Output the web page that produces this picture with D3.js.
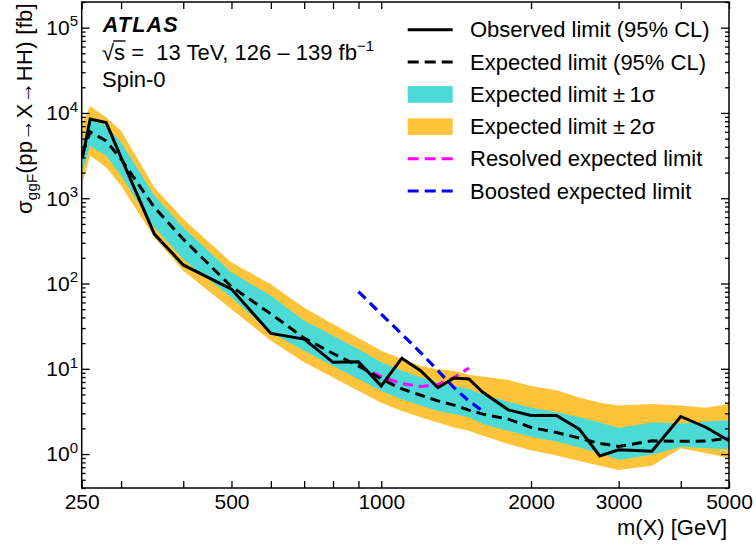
<!DOCTYPE html>
<html>
<head>
<meta charset="utf-8">
<script src="https://cdn.jsdelivr.net/npm/d3@7/dist/d3.min.js"></script>
<style>
  body { margin: 0; background: #fff; }
  svg { font-family: "Liberation Sans", Arial, Helvetica, sans-serif; }
  text { white-space: pre; }
</style>
</head>
<body>
<svg id="chart" width="756" height="550"></svg>
<script>
// ---- data ----
const masses   = [251,260,280,300,350,400,500,600,700,800,900,1000,1100,1200,1300,1400,1500,1600,1800,2000,2250,2500,2750,3000,3500,4000,4500,5000];
const observed = [3000,8500,7700,3000,380,165,86,26,22.3,11.9,12.1,6.3,13.3,9.5,6.0,7.8,7.6,5.3,3.3,2.84,2.84,1.96,0.95,1.12,1.08,2.76,2.05,1.43];
const expected = [3300,6000,4700,2870,780,331,92,44,22.9,15.1,10.8,7.6,5.8,4.9,4.2,3.75,3.28,2.94,2.57,2.05,1.79,1.54,1.33,1.23,1.43,1.41,1.42,1.54];
const plus2    = [7700,12100,8830,6170,1340,569,176,98,52,33.4,22.9,16.3,13,10.8,9.9,9.5,8.5,8.1,7.4,6.3,5.6,4.6,4.0,3.7,3.86,3.7,3.5,3.9];
const plus1    = [4340,8460,7060,4500,1070,454,135,72,36.5,24.4,17,11.9,9.5,7.9,6.9,6.3,5.8,5.0,4.1,3.5,3.1,2.7,2.35,2.02,2.35,2.29,2.41,2.5];
const minus1   = [2100,4110,3140,1830,454,193,68.5,26.6,16.3,10.8,7.6,5.5,4.4,3.7,3.2,2.94,2.7,2.25,1.88,1.6,1.4,1.19,1.02,0.86,0.98,1.22,1.17,1.14];
const minus2   = [1530,3140,2290,1400,347,141,50,21.3,11.9,7.9,5.5,4.0,3.2,2.7,2.35,2.05,1.88,1.64,1.31,1.11,0.96,0.83,0.73,0.65,0.73,1.17,1.02,0.9];

const resolvedMasses = [900,1000,1100,1200,1300,1400,1500];
const resolvedExp    = [10.8,8.1,6.7,6.2,6.5,7.9,10.2];
const boostedMasses  = [900,1000,1100,1200,1300,1400,1500,1600];
const boostedExp     = [80.5,43.8,25.5,15.5,9.5,6.0,4.2,3.2];

const xTicks      = [250,300,400,500,600,700,800,900,1000,2000,3000,4000,5000];
const xTickLabels = {250:"250",500:"500",1000:"1000",2000:"2000",3000:"3000",5000:"5000"};
const yMajor      = [1,10,100,1000,10000,100000];
const yMajorExp   = ["0","1","2","3","4","5"];

const legendLabels = ["Observed limit (95% CL)","Expected limit (95% CL)","Expected limit \u00b1\u20091\u03c3","Expected limit \u00b1\u20092\u03c3","Resolved expected limit","Boosted expected limit"];

// ---- styling ----
const C_CYAN = "#4cdad7", C_YEL = "#fdc33b";
const svg = d3.select("#chart");
const L = 81.7, R = 729, T = 2, B = 488;
const x = d3.scaleLog().domain([250, 5000]).range([L, R]);
const y = d3.scaleLog().domain([0.4, 2e5]).range([B, T]);

const g = svg.append("g");

// bands
const idx = d3.range(masses.length);
const area = (lo, hi) => d3.area().x(i => x(masses[i])).y0(i => y(lo[i])).y1(i => y(hi[i]));
g.append("path").attr("d", area(minus2, plus2)(idx)).attr("fill", C_YEL);
g.append("path").attr("d", area(minus1, plus1)(idx)).attr("fill", C_CYAN);

const line = (xs, ys) => d3.line().x(i => x(xs[i])).y(i => y(ys[i]))(d3.range(xs.length));
g.append("path").attr("d", line(resolvedMasses, resolvedExp)).attr("fill","none").attr("stroke","#ff00ff").attr("stroke-width",3).attr("stroke-dasharray","10,6");
g.append("path").attr("d", line(boostedMasses, boostedExp)).attr("fill","none").attr("stroke","#0000ff").attr("stroke-width",3.2).attr("stroke-dasharray","10,6");
g.append("path").attr("d", line(masses, expected)).attr("fill","none").attr("stroke","#000").attr("stroke-width",3).attr("stroke-dasharray","10,6");
g.append("path").attr("d", line(masses, observed)).attr("fill","none").attr("stroke","#000").attr("stroke-width",3).attr("stroke-linejoin","miter");

// axes
const yMinor = [];
for (let e = -1; e <= 5; e++) for (let m = 2; m <= 9; m++) { const v = m * Math.pow(10, e); if (v >= 0.4 && v <= 2e5) yMinor.push(v); }

function styleAxis(sel) {
  sel.select(".domain").remove();
  sel.selectAll(".tick line").attr("stroke", "#000").attr("stroke-width", 1.3);
}
svg.append("g").attr("transform", `translate(0,${B})`)
  .call(d3.axisBottom(x).tickValues(xTicks).tickSize(-7).tickPadding(6).tickFormat(d => xTickLabels[d] || ""))
  .call(styleAxis)
  .call(s => s.selectAll("text").attr("font-size", 21).attr("fill", "#000").attr("font-family", "Liberation Sans, Arial, sans-serif"));
svg.append("g").attr("transform", `translate(0,${T})`)
  .call(d3.axisTop(x).tickValues(xTicks).tickSize(-7).tickFormat(""))
  .call(styleAxis);
svg.append("g").attr("transform", `translate(${L},0)`)
  .call(d3.axisLeft(y).tickValues(yMajor).tickSize(-8).tickFormat("")).call(styleAxis);
svg.append("g").attr("transform", `translate(${L},0)`)
  .call(d3.axisLeft(y).tickValues(yMinor).tickSize(-4).tickFormat("")).call(styleAxis);
svg.append("g").attr("transform", `translate(${R},0)`)
  .call(d3.axisRight(y).tickValues(yMajor).tickSize(-8).tickFormat("")).call(styleAxis);
svg.append("g").attr("transform", `translate(${R},0)`)
  .call(d3.axisRight(y).tickValues(yMinor).tickSize(-4).tickFormat("")).call(styleAxis);

// frame
svg.append("rect").attr("x", L).attr("y", T).attr("width", R - L).attr("height", B - T)
  .attr("fill", "none").attr("stroke", "#000").attr("stroke-width", 1.5);

// y tick labels 10^n
yMajor.forEach((v, i) => {
  const t = svg.append("text").attr("x", 78).attr("y", y(v) + 7.3).attr("text-anchor", "end").attr("font-size", 21);
  t.append("tspan").text("10");
  t.append("tspan").attr("font-size", 15).attr("dy", -8.5).text(yMajorExp[i]);
});

// axis titles
svg.append("text").attr("x", 727).attr("y", 535).attr("text-anchor", "end").attr("font-size", 22).text("m(X) [GeV]");
const yt = svg.append("text").attr("transform", "translate(32,3) rotate(-90)").attr("text-anchor", "end").attr("font-size", 22).attr("letter-spacing", 0.3);
yt.append("tspan").text("\u03c3");
yt.append("tspan").attr("font-size", 15).attr("dy", 5).text("ggF");
yt.append("tspan").attr("dy", -5).text("(pp\u2192X\u2192HH) [fb]");

// ATLAS labels
svg.append("text").attr("x", 102.7).attr("y", 31.7).attr("font-size", 21.5).attr("font-weight", "bold").attr("font-style", "italic").attr("letter-spacing", 1.2).text("ATLAS");
const l2 = svg.append("text").attr("x", 102).attr("y", 60).attr("font-size", 22);
l2.append("tspan").text("\u221as");
l2.append("tspan").text("\u00a0=\u00a0\u00a013 TeV, 126\u00a0\u2013\u00a0139 fb");
l2.append("tspan").attr("font-size", 15).attr("dy", -9).text("\u22121");
// overline of the square root
const l2n = l2.node();
const rootW = l2n.getSubStringLength(0, 1), sW = l2n.getSubStringLength(1, 1);
svg.append("line").attr("x1", 102 + rootW - 1).attr("x2", 102 + rootW + sW + 0.5)
  .attr("y1", 41).attr("y2", 41).attr("stroke", "#000").attr("stroke-width", 1.4);
svg.append("text").attr("x", 102).attr("y", 86.7).attr("font-size", 22).text("Spin-0");

// legend
const lg = svg.append("g");
legendLabels.forEach((lab, i) => {
  const by = 37.3 + i * 32.25;
  const cy = by - 7.5;
  if (i === 0) lg.append("line").attr("x1", 407.7).attr("x2", 452.7).attr("y1", cy).attr("y2", cy).attr("stroke", "#000").attr("stroke-width", 3);
  if (i === 1) lg.append("line").attr("x1", 407.7).attr("x2", 452.7).attr("y1", cy).attr("y2", cy).attr("stroke", "#000").attr("stroke-width", 3).attr("stroke-dasharray", "11,6");
  if (i === 2 || i === 3) lg.append("rect").attr("x", 407.7).attr("y", by - 15.7).attr("width", 45).attr("height", 16.7).attr("fill", i === 2 ? C_CYAN : C_YEL);
  if (i === 4) lg.append("line").attr("x1", 407.7).attr("x2", 452.7).attr("y1", cy).attr("y2", cy).attr("stroke", "#ff00ff").attr("stroke-width", 3).attr("stroke-dasharray", "11,6");
  if (i === 5) lg.append("line").attr("x1", 407.7).attr("x2", 452.7).attr("y1", cy).attr("y2", cy).attr("stroke", "#0000ff").attr("stroke-width", 3).attr("stroke-dasharray", "11,6");
  lg.append("text").attr("x", 470).attr("y", by).attr("font-size", 22).text(lab);
});
</script>
</body>
</html>
